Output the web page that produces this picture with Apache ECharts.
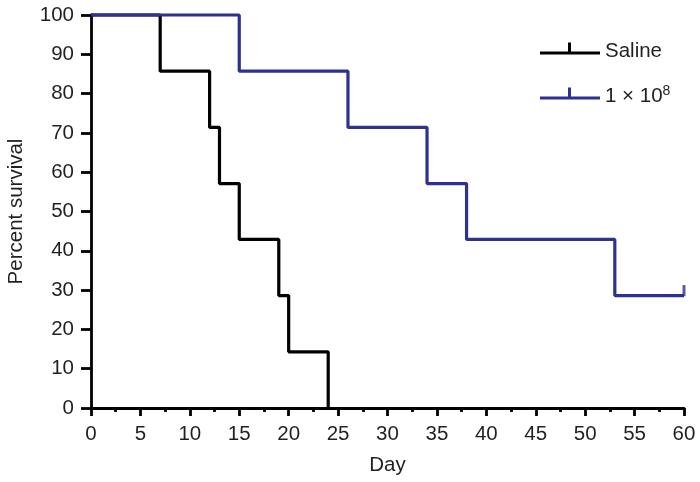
<!DOCTYPE html>
<html>
<head>
<meta charset="utf-8">
<script src="https://cdn.jsdelivr.net/npm/echarts@6/dist/echarts.min.js"></script>
<style>html,body{margin:0;padding:0;background:#fff}#c{width:700px;height:482px}</style>
</head>
<body>
<div id="c"></div>
<script>
const salineDays = [0, 7, 12, 13, 15, 19, 20, 24];
const salineSurv = [100, 85.7, 71.4, 57.1, 42.9, 28.6, 14.3, 0];
const treatedDays = [0, 15, 26, 34, 38, 53, 60];
const treatedSurv = [100, 85.7, 71.4, 57.1, 42.9, 28.6, 28.6];
const censorDays = [60];
const censorSurv = [28.6];
const seriesNames = ['Saline', '1 × 10^8'];
const xTicks = { min: 0, max: 60, interval: 5 };
const yTicks = { min: 0, max: 100, interval: 10 };

const zip = (a, b) => a.map((v, i) => [v, b[i]]);
const FONT = 'Liberation Sans';
const FS = 20.5;
const TXT = '#231f20';
const BLUE = '#2e3192';
const icon = 'path://M0,9 L60,9 L60,12 L0,12 Z M28,0 L31,0 L31,12 L28,12 Z';

const chart = echarts.init(document.getElementById('c'));
chart.setOption({
  animation: false,
  backgroundColor: '#fff',
  grid: { left: 91, right: 16, top: 15, bottom: 74, outerBoundsMode: 'none', containLabel: false },
  legend: {
    orient: 'vertical',
    left: 535, top: 36,
    itemWidth: 60, itemHeight: 12, itemGap: 22,
    data: [
      { name: seriesNames[0], icon: icon },
      { name: seriesNames[1], icon: icon }
    ],
    formatter: n => n === seriesNames[1] ? '1 × 10{sup|8}' : n,
    textStyle: {
      fontFamily: FONT, fontSize: FS, color: TXT, padding: [6, 0, 0, 0],
      rich: { sup: { fontFamily: FONT, fontSize: 14, color: TXT, padding: [0, 0, 11, 0] } }
    }
  },
  xAxis: {
    type: 'value', min: xTicks.min, max: xTicks.max, interval: xTicks.interval,
    name: 'Day', nameLocation: 'middle', nameGap: 47,
    nameTextStyle: { fontFamily: FONT, fontSize: FS, color: TXT },
    axisLine: { show: true, lineStyle: { color: '#000', width: 2.8 } },
    axisTick: { show: true, length: 8, lineStyle: { color: '#000', width: 2.8 } },
    minorTick: { show: true, splitNumber: 2, length: 4, lineStyle: { color: '#000', width: 2.8 } },
    axisLabel: { fontFamily: FONT, fontSize: FS, color: TXT, margin: 16 },
    splitLine: { show: false }
  },
  yAxis: {
    type: 'value', min: yTicks.min, max: yTicks.max, interval: yTicks.interval,
    name: 'Percent survival', nameLocation: 'middle', nameGap: 64, nameRotate: 90,
    nameTextStyle: { fontFamily: FONT, fontSize: FS, color: TXT },
    axisLine: { show: true, lineStyle: { color: '#000', width: 2.8 } },
    axisTick: { show: true, length: 10, lineStyle: { color: '#000', width: 2.8 } },
    axisLabel: { fontFamily: FONT, fontSize: FS, color: TXT, margin: 17 },
    splitLine: { show: false }
  },
  series: [
    {
      name: seriesNames[0], type: 'line', step: 'end', symbol: 'none', clip: false,
      data: zip(salineDays, salineSurv),
      lineStyle: { color: '#000', width: 3.2 }, itemStyle: { color: '#000' }, z: 2
    },
    {
      name: seriesNames[1], type: 'line', step: 'end', symbol: 'none', clip: false,
      data: zip(treatedDays, treatedSurv),
      lineStyle: { color: BLUE, width: 3.2 }, itemStyle: { color: BLUE }, z: 3
    },
    {
      name: seriesNames[1], type: 'scatter', symbol: 'rect', symbolSize: [3, 11],
      symbolOffset: [0, -5], clip: false,
      data: zip(censorDays, censorSurv),
      itemStyle: { color: BLUE }, z: 3
    }
  ]
});
</script>
</body>
</html>
